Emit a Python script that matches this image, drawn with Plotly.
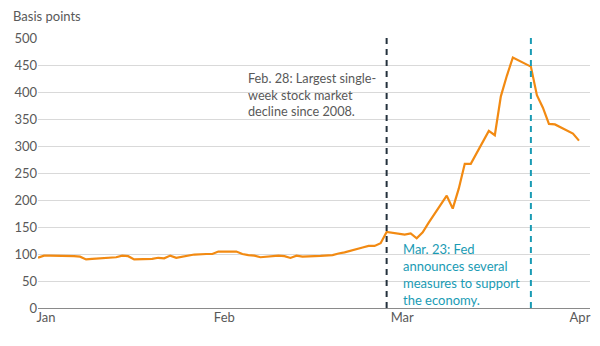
import plotly.graph_objects as go

# Daily spread readings, Jan–Mar 2020 (basis points)
dates = [
    "2020-01-01", "2020-01-02", "2020-01-03", "2020-01-06", "2020-01-07",
    "2020-01-08", "2020-01-09", "2020-01-10", "2020-01-13", "2020-01-14",
    "2020-01-15", "2020-01-16", "2020-01-17", "2020-01-20", "2020-01-21",
    "2020-01-22", "2020-01-23", "2020-01-24", "2020-01-27", "2020-01-28",
    "2020-01-29", "2020-01-30", "2020-01-31",
    "2020-02-03", "2020-02-04", "2020-02-05", "2020-02-06", "2020-02-07",
    "2020-02-10", "2020-02-11", "2020-02-12", "2020-02-13", "2020-02-14",
    "2020-02-17", "2020-02-18", "2020-02-19", "2020-02-20", "2020-02-21",
    "2020-02-24", "2020-02-25", "2020-02-26", "2020-02-27", "2020-02-28",
    "2020-03-02", "2020-03-03", "2020-03-04", "2020-03-05", "2020-03-06",
    "2020-03-09", "2020-03-10", "2020-03-11", "2020-03-12", "2020-03-13",
    "2020-03-16", "2020-03-17", "2020-03-18", "2020-03-19", "2020-03-20",
    "2020-03-23", "2020-03-24", "2020-03-25", "2020-03-26", "2020-03-27",
    "2020-03-30", "2020-03-31",
]
spread = [
    93, 97, 97, 97, 96,
    95, 90, 91, 94, 94,
    97, 96, 90, 91, 93,
    92, 97, 93, 99, 100,
    100, 100, 104.5,
    104.5, 100, 98, 97, 94,
    97, 96, 92.7, 97, 95,
    96.5, 97, 98, 101, 103,
    112, 115, 115, 120, 141,
    136, 138, 129, 140, 158,
    208, 184, 221, 267, 267,
    328, 320, 392, 430, 464,
    447, 394, 371, 341, 340,
    323, 310,
]

# Axis labelling
y_ticks = [0, 50, 100, 150, 200, 250, 300, 350, 400, 450, 500]
# Edge month labels are pulled inward so they sit inside the plot frame
month_tick_dates = ["2020-01-02 08:00", "2020-02-01", "2020-03-01 14:00", "2020-03-31 04:00"]
month_labels = ["Jan", "Feb", "Mar", "Apr"]

# Event markers
event_dates = ["2020-02-28", "2020-03-23"]
event_colors = ["#24313d", "#1a9bb4"]
event_notes = [
    "Feb. 28: Largest single-<br>week stock market<br>decline since 2008.",
    "Mar. 23: Fed<br>announces several<br>measures to support<br>the economy.",
]

FONT = "Lato"
GREY_TXT = "#595959"

fig = go.Figure()

fig.add_trace(go.Scatter(
    x=dates, y=spread, mode="lines",
    line=dict(color="#f28a12", width=2.2),
    hoverinfo="skip", showlegend=False,
))

for d, c in zip(event_dates, event_colors):
    fig.add_shape(
        type="line", xref="x", yref="y",
        x0=d, x1=d, y0=0, y1=500,
        line=dict(color=c, width=2, dash="6px,5px"),
        layer="above",
    )

# Event notes
fig.add_annotation(
    x="2020-02-28", y=444, xref="x", yref="y",
    text=event_notes[0], showarrow=False,
    xanchor="left", yanchor="top", align="left", xshift=-141,
    font=dict(family=FONT, size=12.7, color=GREY_TXT),
)
fig.add_annotation(
    x="2020-02-28", y=128, xref="x", yref="y",
    text=event_notes[1], showarrow=False,
    xanchor="left", yanchor="top", align="left", xshift=14,
    font=dict(family=FONT, size=13, color="#1a9bb4"),
)

# Unit label above the value axis
fig.add_annotation(
    x=0, y=1.082, xref="paper", yref="paper",
    text="Basis points", showarrow=False,
    xanchor="left", yanchor="middle", xshift=-27,
    font=dict(family=FONT, size=13, color=GREY_TXT),
)

fig.update_layout(
    width=600, height=346,
    margin=dict(l=38, r=10, t=38, b=38),
    paper_bgcolor="white", plot_bgcolor="white",
    font=dict(family=FONT, size=13, color=GREY_TXT),
    xaxis=dict(
        type="date",
        range=["2020-01-01", "2020-04-01 20:00"],
        tickvals=month_tick_dates, ticktext=month_labels,
        showgrid=False, zeroline=False, showline=False,
        ticks="", tickfont=dict(family=FONT, size=13, color=GREY_TXT),
        fixedrange=True,
    ),
    yaxis=dict(
        range=[0, 500],
        tickvals=y_ticks,
        showgrid=True, gridcolor="#d9d9d9", gridwidth=1,
        zeroline=True, zerolinecolor="#8a8a8a", zerolinewidth=1.2,
        showline=False, ticks="",
        tickfont=dict(family=FONT, size=13, color=GREY_TXT),
        fixedrange=True,
    ),
)

fig.write_html("out.html")
